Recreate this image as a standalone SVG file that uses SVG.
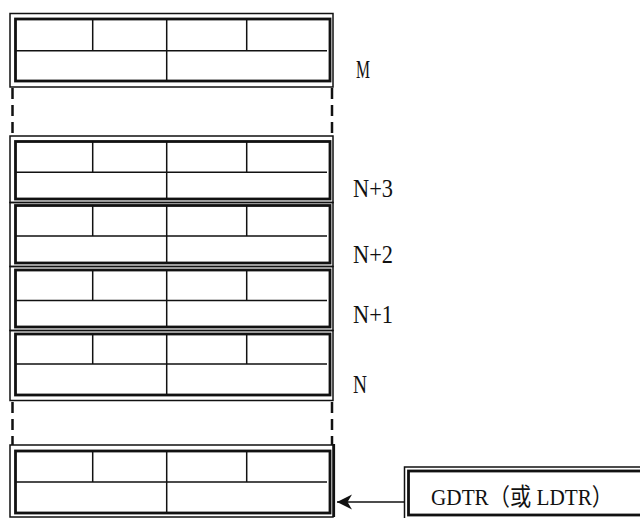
<svg xmlns="http://www.w3.org/2000/svg" width="640" height="518" viewBox="0 0 640 518">
<style>
.outer{fill:none;stroke:#111;stroke-width:1.5}
.inner{fill:none;stroke:#111;stroke-width:2.8}
.div{fill:none;stroke:#111;stroke-width:1.5}
.dash{fill:none;stroke:#111;stroke-width:2.5;stroke-dasharray:11 6}
.lbl{font-family:"Liberation Serif","Noto Sans CJK SC",serif;font-size:25px;fill:#111}
</style>
<defs>
<marker id="ah" viewBox="0 0 16 16" refX="15.5" refY="8" markerWidth="16" markerHeight="16" markerUnits="userSpaceOnUse" orient="auto">
<path d="M15.5,8 L0.5,0.5 L5,8 L0.5,15.5 Z" fill="#111"/>
</marker>
</defs>
<rect width="640" height="518" fill="#fff"/>

<g id="box-M">
<rect class="outer" x="10" y="13.5" width="323" height="73.5"/>
<rect class="inner" x="15.5" y="19" width="314.5" height="62"/>
<path class="div" d="M15.5,50.7H327M92.7,19V50.7M166.7,19V81M246.7,19V50.7"/>
</g>

<g id="box-N3">
<rect class="outer" x="10" y="136" width="323" height="66.5"/>
<rect class="inner" x="15.5" y="141.5" width="314.5" height="57.5"/>
<path class="div" d="M15.5,172.3H327M92.7,141.5V172.3M166.7,141.5V199M246.7,141.5V172.3"/>
</g>

<g id="box-N2">
<rect class="outer" x="10" y="202.5" width="323" height="64"/>
<rect class="inner" x="15.5" y="205.5" width="314.5" height="57.5"/>
<path class="div" d="M15.5,236H327M92.7,205.5V236M166.7,205.5V263M246.7,205.5V236"/>
</g>

<g id="box-N1">
<rect class="outer" x="10" y="266.5" width="323" height="64"/>
<rect class="inner" x="15.5" y="270" width="314.5" height="57"/>
<path class="div" d="M15.5,300.5H327M92.7,270V300.5M166.7,270V327M246.7,270V300.5"/>
</g>

<g id="box-N">
<rect class="outer" x="10" y="330.5" width="323" height="70"/>
<rect class="inner" x="15.5" y="334" width="314.5" height="61"/>
<path class="div" d="M15.5,364H327M92.7,334V364M166.7,334V395M246.7,334V364"/>
</g>

<g id="box-base">
<rect class="outer" x="10" y="445" width="323" height="72"/>
<rect class="inner" x="15.5" y="451" width="314.5" height="62"/>
<path class="div" d="M15.5,482H327M92.7,451V482M166.7,451V513M246.7,451V482"/>
<path d="M334,444V517" stroke="#111" stroke-width="2.2"/>
</g>

<g id="gdtr">
<rect class="outer" x="404.5" y="467" width="245" height="60"/>
<rect class="inner" x="408.5" y="471" width="240" height="44"/>
<text class="lbl" x="431" y="505" style="font-size:24px" textLength="182" lengthAdjust="spacingAndGlyphs">GDTR（或 LDTR）</text>
</g>

<g id="labels">
<text class="lbl" x="356" y="78" textLength="14" lengthAdjust="spacingAndGlyphs">M</text>
<text class="lbl" x="353" y="196.5" textLength="40" lengthAdjust="spacingAndGlyphs">N+3</text>
<text class="lbl" x="353" y="263" textLength="40" lengthAdjust="spacingAndGlyphs">N+2</text>
<text class="lbl" x="353" y="323" textLength="40" lengthAdjust="spacingAndGlyphs">N+1</text>
<text class="lbl" x="353" y="393" textLength="14" lengthAdjust="spacingAndGlyphs">N</text>
</g>

<g id="connectors">
<path class="dash" d="M12.5,88V136M332,88V136M12.5,402V445M332,402V445"/>
<path d="M404.5,502H337" stroke="#111" stroke-width="1.4" marker-end="url(#ah)"/>
</g>
</svg>
